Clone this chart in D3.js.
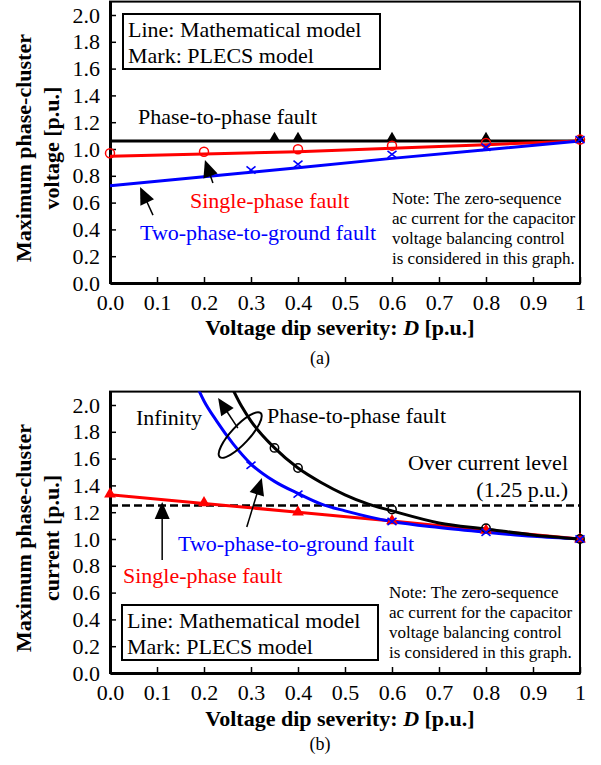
<!DOCTYPE html>
<html>
<head>
<meta charset="utf-8">
<script src="https://cdnjs.cloudflare.com/ajax/libs/d3/7.8.5/d3.min.js"></script>
<style>
  body { margin: 0; background: #fff; }
  text { font-family: "Liberation Serif", "Times New Roman", serif; fill: #000; }
</style>
</head>
<body>
<script>
"use strict";
(function(){

// x axis (both panels)
var dTicks = [0, 0.1, 0.2, 0.3, 0.4, 0.5, 0.6, 0.7, 0.8, 0.9, 1];
var yTicks = [0, 0.2, 0.4, 0.6, 0.8, 1.0, 1.2, 1.4, 1.6, 1.8, 2.0];

// (a) maximum phase-cluster voltage
var voltLineD   = [0, 0.2, 0.4, 0.6, 0.8, 1];
var voltPPLine  = [1.06, 1.06, 1.06, 1.06, 1.06, 1.06];
var voltSPLine  = [0.945, 0.962, 0.98, 1.005, 1.032, 1.06];
var voltTPGLine = [0.726, 0.793, 0.86, 0.93, 0.995, 1.06];

var voltPPMarkD  = [0.35, 0.4, 0.6, 0.8, 1];
var voltPPMark   = [1.085, 1.085, 1.085, 1.085, 1.075];
var voltSPMarkD  = [0, 0.2, 0.4, 0.6, 0.8, 1];
var voltSPMark   = [0.968, 0.98, 0.998, 1.025, 1.045, 1.07];
var voltTPGMarkD = [0.3, 0.4, 0.6, 0.8, 1];
var voltTPGMark  = [0.843, 0.886, 0.96, 1.013, 1.07];

// (b) maximum phase-cluster current
var curPPLineD  = [0.25, 0.28, 0.3, 0.35, 0.4, 0.45, 0.5, 0.55, 0.6, 0.7, 0.8, 0.9, 1];
var curPPLine   = [2.2, 1.99, 1.88, 1.68, 1.53, 1.42, 1.33, 1.26, 1.21, 1.12, 1.075, 1.03, 1.0];
var curTPGLineD = [0.18, 0.2, 0.227, 0.262, 0.3, 0.35, 0.4, 0.45, 0.5, 0.6, 0.7, 0.8, 0.9, 1];
var curTPGLine  = [2.18, 2.03, 1.88, 1.71, 1.56, 1.43, 1.34, 1.26, 1.21, 1.13, 1.085, 1.05, 1.02, 1.0];
var curSPLineD  = [0, 0.2, 0.4, 0.6, 0.8, 1];
var curSPLine   = [1.33, 1.265, 1.2, 1.135, 1.065, 1.0];

var curPPMarkD  = [0.35, 0.4, 0.6, 0.8, 1];
var curPPMark   = [1.68, 1.53, 1.22, 1.08, 1.0];
var curTPGMarkD = [0.3, 0.4, 0.6, 0.8, 1];
var curTPGMark  = [1.55, 1.335, 1.13, 1.05, 1.0];
var curSPMarkD  = [0, 0.2, 0.4, 0.6, 0.8, 1];
var curSPMark   = [1.335, 1.27, 1.2, 1.135, 1.065, 1.0];
var overCurrent = 1.25;

var noteLines = ["Note: The zero-sequence", "ac current for the capacitor",
                 "voltage balancing control", "is considered in this graph."];

var RED = "#ff0000", BLUE = "#0000ff";

var svg = d3.select("body").append("svg")
            .attr("width", 601)
            .attr("height", 765);

function zip(a, b){ return a.map(function(v, i){ return [v, b[i]]; }); }

function panel(bottom, clipId, yTitle2, titleY, labelY, letter, letterY){
  var g = svg.append("g");
  var x = d3.scaleLinear().domain([0, 1]).range([110, 580]);
  var y = d3.scaleLinear().domain([0, 2.1]).range([bottom, bottom - 2.1 * 134]);

  g.append("clipPath").attr("id", clipId)
   .append("rect").attr("x", x(0)).attr("y", y(2.1))
   .attr("width", x(1) - x(0)).attr("height", y(0) - y(2.1));

  g.append("rect")
   .attr("x", x(0)).attr("y", y(2.1))
   .attr("width", x(1) - x(0)).attr("height", y(0) - y(2.1))
   .attr("fill", "none").attr("stroke", "#000").attr("stroke-width", 2);

  var xa = g.append("g").attr("transform", "translate(0," + y(0) + ")")
    .call(d3.axisBottom(x).tickValues(dTicks).tickSizeInner(-6).tickSizeOuter(0).tickPadding(11)
      .tickFormat(function(d){ return d === 1 ? "1" : d.toFixed(1); }));
  var ya = g.append("g").attr("transform", "translate(" + x(0) + ",0)")
    .call(d3.axisLeft(y).tickValues(yTicks).tickSizeInner(-6).tickSizeOuter(0).tickPadding(10)
      .tickFormat(d3.format(".1f")));
  [xa, ya].forEach(function(a){
    a.select(".domain").attr("stroke-width", 3);
    a.selectAll(".tick line").attr("stroke-width", 1.5);
    a.selectAll(".tick text").attr("font-size", 22)
     .attr("font-family", "Liberation Serif, serif").attr("fill", "#000");
  });

  // axis titles
  var xt = g.append("text").attr("x", 340).attr("y", titleY).attr("text-anchor", "middle")
            .attr("font-size", 22).attr("font-weight", "bold");
  xt.append("tspan").text("Voltage dip severity: ");
  xt.append("tspan").attr("font-style", "italic").text("D");
  xt.append("tspan").text(" [p.u.]");

  g.append("text").attr("transform", "translate(31," + labelY + ") rotate(-90)")
   .attr("text-anchor", "middle").attr("font-size", 22).attr("font-weight", "bold")
   .text("Maximum phase-cluster");
  g.append("text").attr("transform", "translate(59," + labelY + ") rotate(-90)")
   .attr("text-anchor", "middle").attr("font-size", 22).attr("font-weight", "bold")
   .text(yTitle2);

  g.append("text").attr("x", 320).attr("y", letterY).attr("text-anchor", "middle")
   .attr("font-size", 18).text(letter);

  return { g: g, x: x, y: y, clip: "url(#" + clipId + ")" };
}

function drawLine(p, pts, color, curve){
  p.g.append("path").datum(pts)
   .attr("clip-path", p.clip)
   .attr("fill", "none").attr("stroke", color).attr("stroke-width", 3)
   .attr("d", d3.line().curve(curve || d3.curveLinear)
     .x(function(d){ return p.x(d[0]); }).y(function(d){ return p.y(d[1]); }));
}

function circles(p, pts, color, r){
  p.g.selectAll(null).data(pts).enter().append("circle")
   .attr("cx", function(d){ return p.x(d[0]); })
   .attr("cy", function(d){ return p.y(d[1]); })
   .attr("r", r).attr("fill", "none").attr("stroke", color).attr("stroke-width", 1.5);
}

function crosses(p, pts, color, s){
  p.g.selectAll(null).data(pts).enter().append("path")
   .attr("transform", function(d){ return "translate(" + p.x(d[0]) + "," + p.y(d[1]) + ")"; })
   .attr("d", "M" + (-s) + "," + (-s * 0.8) + "L" + s + "," + (s * 0.8) +
              "M" + (-s) + "," + (s * 0.8) + "L" + s + "," + (-s * 0.8))
   .attr("fill", "none").attr("stroke", color).attr("stroke-width", 1.6);
}

function triangles(p, pts, color, size){
  p.g.selectAll(null).data(pts).enter().append("path")
   .attr("transform", function(d){ return "translate(" + p.x(d[0]) + "," + p.y(d[1]) + ")"; })
   .attr("d", d3.symbol().type(d3.symbolTriangle).size(size))
   .attr("fill", color);
}

// arrow in data coordinates, tail -> tip
function arrow(p, d1, v1, d2, v2){
  var x1 = p.x(d1), y1 = p.y(v1), x2 = p.x(d2), y2 = p.y(v2);
  var L = Math.hypot(x2 - x1, y2 - y1), ux = (x2 - x1) / L, uy = (y2 - y1) / L;
  var hl = 17, hw = 7.5;
  var bx = x2 - ux * hl, by = y2 - uy * hl;
  p.g.append("line").attr("x1", x1).attr("y1", y1).attr("x2", bx + ux * 3).attr("y2", by + uy * 3)
   .attr("stroke", "#000").attr("stroke-width", 1.5);
  p.g.append("path")
   .attr("d", "M" + x2 + "," + y2 + "L" + (bx - uy * hw) + "," + (by + ux * hw) +
              "L" + (bx + uy * hw) + "," + (by - ux * hw) + "Z")
   .attr("fill", "#000");
}

function label(p, x, y, txt, color, size, anchor){
  p.g.append("text").attr("x", x).attr("y", y).attr("font-size", size || 22)
   .attr("text-anchor", anchor || "start").style("fill", color || "#000").text(txt);
}

function legendBox(p, x, y, w, h){
  p.g.append("rect").attr("x", x).attr("y", y).attr("width", w).attr("height", h)
   .attr("fill", "#fff").attr("stroke", "#000").attr("stroke-width", 2);
  label(p, x + 5, y + 23, "Line: Mathematical model");
  label(p, x + 5, y + 49, "Mark: PLECS model");
}

function note(p, x, y0){
  noteLines.forEach(function(t, i){ label(p, x, y0 + i * 20, t, "#000", 17); });
}

// ---------- (a) ----------
var a = panel(283, "clipA", "voltage [p.u.]", 335, 148, "(a)", 364);
drawLine(a, zip(voltLineD, voltPPLine), "#000");
drawLine(a, zip(voltLineD, voltSPLine), RED);
drawLine(a, zip(voltLineD, voltTPGLine), BLUE);
triangles(a, zip(voltPPMarkD, voltPPMark), "#000", 45);
circles(a, zip(voltSPMarkD, voltSPMark), RED, 4.5);
crosses(a, zip(voltTPGMarkD, voltTPGMark), BLUE, 4.5);

legendBox(a, 123, 14, 257, 55);
label(a, 138, 124, "Phase-to-phase fault");
label(a, 190, 208, "Single-phase fault", RED);
label(a, 140, 240, "Two-phase-to-ground fault", BLUE);
arrow(a, 0.219, 0.746, 0.202, 0.918);
arrow(a, 0.0915, 0.507, 0.064, 0.716);
note(a, 392, 204);

// ---------- (b) ----------
var b = panel(673, "clipB", "current [p.u.]", 726, 538, "(b)", 750);
b.g.append("line")
 .attr("x1", b.x(0)).attr("x2", b.x(1))
 .attr("y1", b.y(overCurrent)).attr("y2", b.y(overCurrent))
 .attr("stroke", "#000").attr("stroke-width", 2.4).attr("stroke-dasharray", "8,4");
drawLine(b, zip(curSPLineD, curSPLine), RED);
drawLine(b, zip(curTPGLineD, curTPGLine), BLUE, d3.curveMonotoneX);
drawLine(b, zip(curPPLineD, curPPLine), "#000", d3.curveMonotoneX);
triangles(b, zip(curSPMarkD, curSPMark), RED, 60);
circles(b, zip(curPPMarkD, curPPMark), "#000", 4.2);
crosses(b, zip(curTPGMarkD, curTPGMark), BLUE, 4.5);

// ellipse grouping the two steep curves
b.g.append("ellipse")
 .attr("transform", "translate(" + b.x(0.277) + "," + b.y(1.776) + ") rotate(-47)")
 .attr("rx", 30).attr("ry", 9)
 .attr("fill", "none").attr("stroke", "#000").attr("stroke-width", 2);
arrow(b, 0.272, 1.828, 0.230, 2.052);
arrow(b, 0.291, 1.09, 0.323, 1.455);
arrow(b, 0.111, 0.843, 0.111, 1.276);

label(b, 136, 425, "Infinity");
label(b, 267, 423, "Phase-to-phase fault");
label(b, 568, 470, "Over current level", "#000", 22, "end");
label(b, 568, 497, "(1.25 p.u.)", "#000", 22, "end");
label(b, 178, 551, "Two-phase-to-ground fault", BLUE);
label(b, 123, 583, "Single-phase fault", RED);
legendBox(b, 122, 605, 256, 55);
note(b, 389, 598);

})();
</script>
</body>
</html>
